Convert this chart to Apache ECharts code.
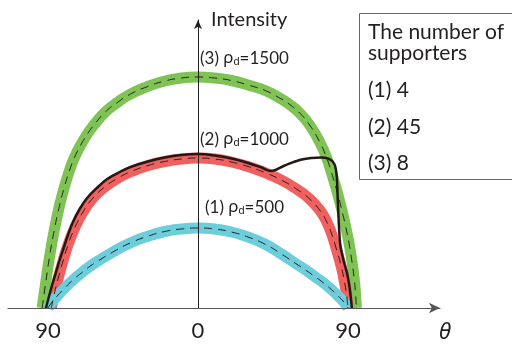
<!DOCTYPE html>
<html><head><meta charset="utf-8">
<script src="https://cdn.jsdelivr.net/npm/echarts@6/dist/echarts.min.js"></script>
<style>html,body{margin:0;padding:0;background:#fff}#c{width:512px;height:345px}</style>
</head><body><div id="c"></div>
<script>
// x: angle theta (deg), y: intensity (relative units)
const tickValues = [-90, 0, 90];
const curve1 = [[-90,0],[-88,5],[-85,11],[-80,20],[-75,28],[-70,35],[-65,41.5],[-60,47],[-50,57],[-40,65.5],[-30,71.8],[-20,76.5],[-10,79],[0,80],[10,79],[20,76],[30,71],[40,64],[50,54],[60,43],[65,37.5],[70,31.5],[75,25.5],[80,18.5],[85,10.5],[88,5],[90,0]];
const curve2 = [[-88,0],[-86.5,12],[-84,29],[-81,47],[-78,63],[-74,80],[-69,96],[-63,110],[-56,121],[-48,130],[-40,136.5],[-30,142.5],[-20,146.5],[-10,149],[0,150],[10,149],[20,146],[30,141.5],[40,135.5],[50,128],[60,118],[66,110.5],[73,98],[77,87],[80,75],[83,59],[86,41],[88,25],[89,15],[90,0]];
const curve3 = [[-93.5,0],[-92,18],[-89,52],[-86,80],[-83,103],[-80,122],[-77,138],[-74,151],[-70,164],[-66,175],[-61,186],[-55,197],[-48,206],[-41,213.5],[-31,221],[-21,226.5],[-10,230],[0,231],[10,230],[20,227.5],[30,223],[41,217],[50,209],[55,203.5],[61,195],[67,183],[73,166],[77,151],[80,136],[83,119],[86,100],[88.5,82],[90.6,65],[92.5,45],[93.6,31],[94.5,15],[95,0]];
const measured = [[-91.2,0],[-89.5,11],[-87.5,23],[-85.5,34],[-83,48],[-81,58],[-78,73],[-75,86],[-71,99],[-66.5,110],[-60,121],[-54.5,129],[-47,136],[-40.5,141],[-30,146.5],[-20,150.5],[-10,153],[0,154],[10,152.5],[20,149.5],[30,145],[38,140.5],[43.8,137],[52,142.5],[61,148],[68,150],[74,150.5],[78,149.5],[80.5,147],[82.3,142],[83.2,132],[83.7,115],[84.2,95],[84.7,78],[85.3,64],[86.3,55],[87.7,45],[89.4,35],[91,20],[92.3,0]];
const curveLabels = ['(1) ', '(2) ', '(3) '];
const rhoValues = ['500', '1000', '1500'];
const legendTitle = ['The number of', 'supporters'];
const supporters = ['(1) 4', '(2) 45', '(3) 8'];

const FONT = 'Lato, "Noto Sans", sans-serif';
const TXT = '#231f20';
const colors = ['#6ccddb', '#f0605f', '#7fc355'];
const curves = [curve1, curve2, curve3];

const series = [];
[2,1,0].forEach(i => {
  series.push({type:'line', data:curves[i], smooth:0.5, showSymbol:false, silent:true,
    lineStyle:{color:colors[i], width:11, cap:'butt'}, z:2});
});
[2,1,0].forEach(i => {
  series.push({type:'line', data:curves[i], smooth:0.5, showSymbol:false, silent:true,
    lineStyle:{color:TXT, width:1, type:[8,6]}, z:3});
});
series.push({type:'line', data:measured, smooth:0.35, showSymbol:false, silent:true,
  lineStyle:{color:'#231815', width:2.5}, z:4});

const labelPos = [[205,210],[200,142],[200,61]];
const graphics = [];
for (let i=0;i<3;i++){
  graphics.push({type:'text', left:labelPos[i][0], top:labelPos[i][1]-11, z:20, silent:true,
    style:{text:curveLabels[i]+'{r|ρ}{s|d}=' + rhoValues[i], font:'17px '+FONT, fill:TXT,
      rich:{r:{fontSize:17, fontFamily:'"Noto Sans", sans-serif', fill:TXT}, s:{fontSize:11, fill:TXT, verticalAlign:'bottom', padding:[6,0,0,0]}}}});
}
graphics.push({type:'rect', shape:{x:359.5, y:13.5, width:160, height:166}, style:{fill:'#fff', stroke:'#666', lineWidth:1}, z:10, silent:true});
const legY = [32,53,90,127,163];
const legTexts = legendTitle.concat(supporters);
legTexts.forEach((t,k)=>{
  graphics.push({type:'text', x:368, y:legY[k], z:11, silent:true,
    style:{text:t, font:'21px '+FONT, fill:TXT, textVerticalAlign:'middle'}});
});
graphics.push({type:'text', x:211, y:20, z:11, silent:true,
  style:{text:'Intensity', font:'20px '+FONT, fill:TXT, textVerticalAlign:'middle'}});
graphics.push({type:'text', x:439, y:333, z:11, silent:true,
  style:{text:'θ', font:'italic 22px "Noto Sans", sans-serif', fill:TXT, textVerticalAlign:'middle'}});

const chart = echarts.init(document.getElementById('c'), null, {renderer:'canvas'});
chart.setOption({
  animation:false,
  backgroundColor:'#fff',
  grid:{left:8, right:72, top:20, bottom:37, containLabel:false},
  xAxis:{type:'value', min:-114, max:145.2, z:10,
    axisLine:{show:true, onZero:false, symbol:['none','arrow'], symbolSize:[8,11], lineStyle:{color:'#555', width:1.2}},
    axisTick:{show:false}, splitLine:{show:false},
    axisLabel:{customValues:tickValues, formatter:v=>String(Math.abs(v)), fontSize:22, fontFamily:FONT, color:TXT, margin:12}},
  yAxis:{type:'value', min:0, max:288, z:10,
    axisLine:{show:true, onZero:true, symbol:['none','arrow'], symbolSize:[6,9], lineStyle:{color:'#231f20', width:1}},
    axisTick:{show:false}, splitLine:{show:false}, axisLabel:{show:false}},
  series:series,
  graphic:graphics
});
</script></body></html>
